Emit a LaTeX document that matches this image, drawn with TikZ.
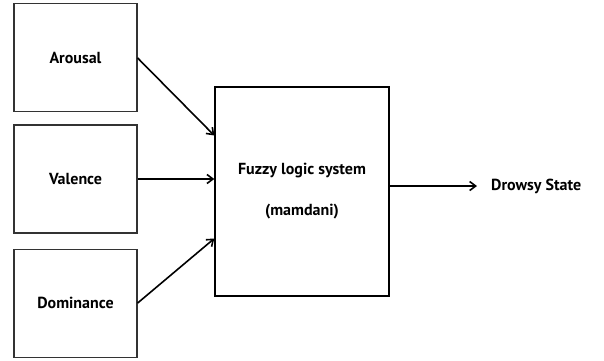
\documentclass[tikz,border=0pt]{standalone}
\usepackage{fontspec}
\setmainfont{PT Sans}
\usetikzlibrary{positioning, arrows.meta}

\begin{document}
\begin{tikzpicture} [ x=1pt, y=-1pt
                    , font=\bfseries\fontsize{16}{19}\selectfont
                    , inbox/.style={draw=black!80, line width=1.1pt, minimum width=123pt, minimum height=108pt, inner sep=0pt}
                    , fls/.style={draw, line width=1.4pt, minimum width=174pt, minimum height=209pt, inner sep=0pt, align=center}
                    , link/.style={line width=1.6pt, -{Straight Barb[length=6pt, width=9pt, line width=1.6pt]}}
                    ]
  \useasboundingbox (0,0) rectangle (604,360);

  % --- Inputs ----------------------------------------------------------------
  \node [ inbox
        ]
        (Val) at (75.5,179) {Valence};

  \node [ inbox
        , above=12pt of Val
        ]
        (Aro) {Arousal};

  \node [ inbox
        , below=15pt of Val
        ]
        (Dom) {Dominance};
  % ---------------------------------------------------------------------------

  % --- Fuzzy system ----------------------------------------------------------
  \node [ fls
        ]
        (FLS) at (302,191.5) {Fuzzy logic system\\[22pt](mamdani)};

  \node [ inner sep=4pt
        , anchor=west
        ]
        (DS) at (487,186) {Drowsy State};
  % ---------------------------------------------------------------------------

  % --- Connections -----------------------------------------------------------
  \draw [link] (Aro.east) -- ([yshift=56pt]FLS.west);
  \draw [link] (Val.east) -- (FLS.west |- Val.east);
  \draw [link] (Dom.east) -- ([yshift=-47pt]FLS.west);
  \draw [link, shorten >=10pt] (FLS.east |- DS.west) -- (DS.west);
  % ---------------------------------------------------------------------------
\end{tikzpicture}
\end{document}
